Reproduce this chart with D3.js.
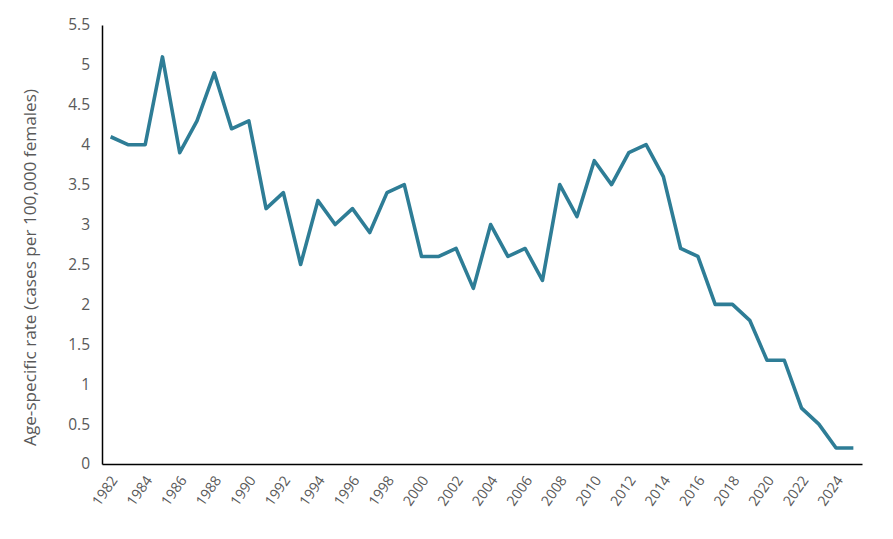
<!DOCTYPE html>
<html>
<head>
<meta charset="utf-8">
<script src="https://cdn.jsdelivr.net/npm/d3@7"></script>
<style>
  body { margin: 0; background: #fff; }
  svg { display: block; }
</style>
</head>
<body>
<svg id="chart" width="893" height="539"></svg>
<script>
const years = d3.range(1982, 2026);
const rates = [4.1, 4.0, 4.0, 5.1, 3.9, 4.3, 4.9, 4.2, 4.3, 3.2,
               3.4, 2.5, 3.3, 3.0, 3.2, 2.9, 3.4, 3.5, 2.6, 2.6,
               2.7, 2.2, 3.0, 2.6, 2.7, 2.3, 3.5, 3.1, 3.8, 3.5,
               3.9, 4.0, 3.6, 2.7, 2.6, 2.0, 2.0, 1.8, 1.3, 1.3,
               0.7, 0.5, 0.2, 0.2];
const yTicks = [0, 0.5, 1, 1.5, 2, 2.5, 3, 3.5, 4, 4.5, 5, 5.5];
const xTickYears = years.filter(y => (y - 1982) % 2 === 0);
const yTitle = "Age-specific rate (cases per 100,000 females)";

const font = '"Open Sans", "Noto Sans", sans-serif';
const margin = { top: 25, right: 31, bottom: 75, left: 102 };
const width = 893, height = 539;
const svg = d3.select('#chart');

const x = d3.scalePoint()
    .domain(years)
    .range([margin.left, width - margin.right])
    .padding(0.5);
const y = d3.scaleLinear()
    .domain([0, 5.5])
    .range([height - margin.bottom, margin.top]);

// y axis
const yAxis = svg.append('g')
    .attr('transform', `translate(${margin.left},0)`)
    .call(d3.axisLeft(y).tickValues(yTicks).tickSize(0).tickPadding(12).tickFormat(d => d3.format('~g')(d)))
    .attr('font-family', font);
yAxis.select('.domain').attr('stroke', '#000').attr('stroke-width', 1.5);
yAxis.selectAll('text').attr('fill', '#595959').attr('font-size', 15.5);

// x axis
const xAxis = svg.append('g')
    .attr('transform', `translate(0,${height - margin.bottom})`)
    .call(d3.axisBottom(x).tickValues(xTickYears).tickSize(0).tickSizeOuter(0))
    .attr('font-family', font);
xAxis.select('.domain').attr('stroke', '#000').attr('stroke-width', 1.5);
xAxis.selectAll('text')
    .attr('fill', '#595959')
    .attr('font-size', 14.3)
    .attr('text-anchor', 'end')
    .attr('dy', null)
    .attr('y', 0)
    .attr('transform', 'translate(4,14) rotate(-55)')
    .attr('dominant-baseline', 'middle');

// y title
svg.append('text')
    .attr('transform', `translate(36,${(margin.top + height - margin.bottom) / 2 + 23}) rotate(-90)`)
    .attr('text-anchor', 'middle')
    .attr('font-family', font)
    .attr('fill', '#595959')
    .attr('font-size', 17.2)
    .text(yTitle);

// line
const line = d3.line()
    .x((d, i) => x(years[i]))
    .y(d => y(d));
svg.append('path')
    .datum(rates)
    .attr('fill', 'none')
    .attr('stroke', '#2e7d96')
    .attr('stroke-width', 3.6)
    .attr('stroke-linejoin', 'round')
    .attr('d', line);
</script>
</body>
</html>
